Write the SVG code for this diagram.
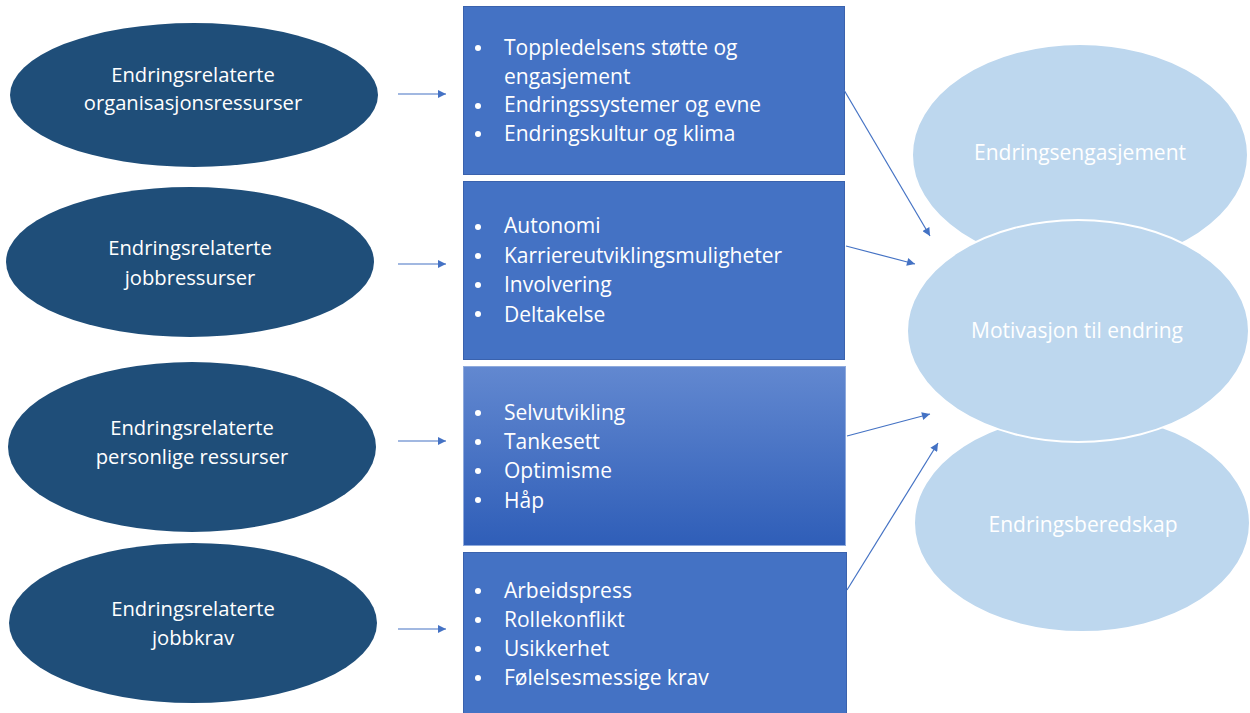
<svg xmlns="http://www.w3.org/2000/svg" width="1250" height="713" viewBox="0 0 1250 713">
<style>
.lt{fill:#1F4E79;}
.lt-t{font-family:"Open Sans","Noto Sans",sans-serif;font-size:20.2px;fill:#ffffff;text-anchor:middle;}
.box{fill:#4472C4;stroke:#3A62AD;stroke-width:1;}
.bt{font-family:"Open Sans","Noto Sans",sans-serif;font-size:21px;fill:#ffffff;}
.rt{fill:#BDD7EE;stroke:#ffffff;stroke-width:2;}
.rt-t{font-family:"Open Sans","Noto Sans",sans-serif;font-size:21px;fill:#ffffff;text-anchor:middle;}
.con{stroke:#4472C4;stroke-width:1.2;fill:none;marker-end:url(#ah);}
</style>
<defs>
<marker id="ah" viewBox="0 0 10 10" refX="10" refY="5" markerWidth="9" markerHeight="8" markerUnits="userSpaceOnUse" orient="auto">
<path d="M0,0 L10,5 L0,10 z" fill="#4472C4"/>
</marker>
<linearGradient id="g3" x1="0" y1="0" x2="0" y2="1">
<stop offset="0" stop-color="#6288D0"/>
<stop offset="1" stop-color="#2F5EB8"/>
</linearGradient>
</defs>
<rect width="1250" height="713" fill="#ffffff"/>

<g id="left1"><ellipse class="lt" cx="194" cy="95" rx="184" ry="72"/>
<text class="lt-t" x="193" y="82">Endringsrelaterte</text><text class="lt-t" x="193" y="110">organisasjonsressurser</text></g>
<g id="left2"><ellipse class="lt" cx="190" cy="262" rx="184" ry="75"/>
<text class="lt-t" x="190" y="255">Endringsrelaterte</text><text class="lt-t" x="190" y="285">jobbressurser</text></g>
<g id="left3"><ellipse class="lt" cx="192" cy="447" rx="184" ry="85"/>
<text class="lt-t" x="192" y="435">Endringsrelaterte</text><text class="lt-t" x="192" y="464">personlige ressurser</text></g>
<g id="left4"><ellipse class="lt" cx="193" cy="623" rx="184" ry="80"/>
<text class="lt-t" x="193" y="616">Endringsrelaterte</text><text class="lt-t" x="193" y="645">jobbkrav</text></g>

<g id="box1"><rect class="box" x="463.5" y="6.5" width="381" height="168"/>
<g fill="#ffffff"><circle cx="478" cy="48" r="3"/><circle cx="478" cy="106" r="3"/><circle cx="478" cy="134" r="3"/></g>
<text class="bt" x="504" y="55">Toppledelsens støtte og</text>
<text class="bt" x="504" y="84">engasjement</text>
<text class="bt" x="504" y="112">Endringssystemer og evne</text>
<text class="bt" x="504" y="141">Endringskultur og klima</text></g>

<g id="box2"><rect class="box" x="463.5" y="181.5" width="381" height="178"/>
<g fill="#ffffff"><circle cx="478" cy="227" r="3"/><circle cx="478" cy="256" r="3"/><circle cx="478" cy="285" r="3"/><circle cx="478" cy="314" r="3"/></g>
<text class="bt" x="504" y="233">Autonomi</text>
<text class="bt" x="504" y="263">Karriereutviklingsmuligheter</text>
<text class="bt" x="504" y="292">Involvering</text>
<text class="bt" x="504" y="322">Deltakelse</text></g>

<g id="box3"><rect x="463.5" y="366.5" width="382" height="179" fill="url(#g3)" stroke="#8FAADC" stroke-width="1"/>
<g fill="#ffffff"><circle cx="478" cy="413" r="3"/><circle cx="478" cy="442" r="3"/><circle cx="478" cy="471" r="3"/><circle cx="478" cy="500" r="3"/></g>
<text class="bt" x="504" y="420">Selvutvikling</text>
<text class="bt" x="504" y="449">Tankesett</text>
<text class="bt" x="504" y="478">Optimisme</text>
<text class="bt" x="504" y="508">Håp</text></g>

<g id="box4"><rect class="box" x="463.5" y="552.5" width="383" height="162"/>
<g fill="#ffffff"><circle cx="478" cy="591" r="3"/><circle cx="478" cy="620" r="3"/><circle cx="478" cy="649" r="3"/><circle cx="478" cy="678" r="3"/></g>
<text class="bt" x="504" y="598">Arbeidspress</text>
<text class="bt" x="504" y="627">Rollekonflikt</text>
<text class="bt" x="504" y="656">Usikkerhet</text>
<text class="bt" x="504" y="685">Følelsesmessige krav</text></g>

<g id="right-top"><ellipse class="rt" cx="1080" cy="155" rx="168" ry="111" stroke="none"/>
<text class="rt-t" x="1080" y="160">Endringsengasjement</text></g>
<g id="right-bottom"><ellipse class="rt" cx="1082" cy="523" rx="168" ry="109" stroke="none"/>
<text class="rt-t" x="1083" y="532">Endringsberedskap</text></g>
<g id="right-mid"><ellipse class="rt" cx="1078" cy="331" rx="171" ry="111"/>
<text class="rt-t" x="1077" y="338">Motivasjon til endring</text></g>

<g id="connectors">
<line class="con" x1="398" y1="94" x2="446" y2="94"/>
<line class="con" x1="398" y1="264" x2="446" y2="264"/>
<line class="con" x1="398" y1="441" x2="446" y2="441"/>
<line class="con" x1="398" y1="629" x2="446" y2="629"/>
<line class="con" x1="844" y1="90" x2="930" y2="236"/>
<line class="con" x1="846" y1="246" x2="915" y2="264"/>
<line class="con" x1="847" y1="436" x2="930" y2="414"/>
<line class="con" x1="847" y1="590" x2="938" y2="443"/>
</g>
</svg>
